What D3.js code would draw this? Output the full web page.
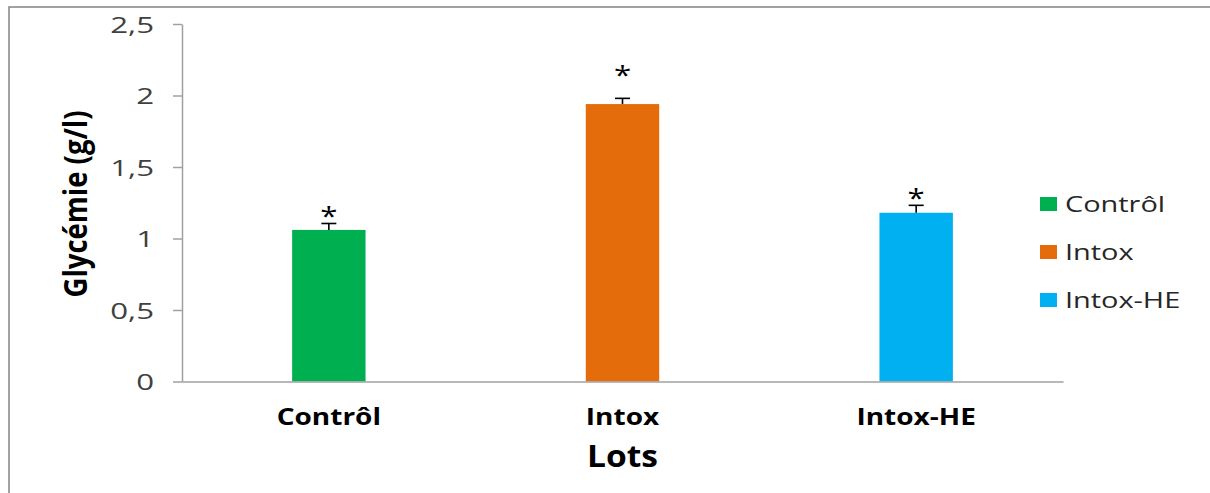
<!DOCTYPE html>
<html>
<head>
<meta charset="utf-8">
<script src="https://cdn.jsdelivr.net/npm/d3@7"></script>
<style>
  html, body { margin: 0; padding: 0; background: #fff; }
  svg { display: block; }
</style>
</head>
<body>
<script>
// ---- data ----
const categories = ["Contrôl", "Intox", "Intox-HE"];
const values = [1.06, 1.94, 1.18];
const errors = [0.045, 0.04, 0.052];
const significance = ["*", "*", "*"];
const colors = ["#00B050", "#E46C0A", "#00B0F0"];
const yTickValues = [0, 0.5, 1, 1.5, 2, 2.5];
const yTickLabels = ["0", "0,5", "1", "1,5", "2", "2,5"];
const yTitle = "Glycémie (g/l)";
const xTitle = "Lots";

// ---- layout ----
const W = 1210, H = 493;
const plot = { left: 182, right: 1063, top: 24, bottom: 381.5 };
const FONT = "'Open Sans', 'Noto Sans', sans-serif";

const svg = d3.select("body").append("svg")
  .attr("width", W).attr("height", H);

// outer frame (cropped: only top and left visible)
svg.append("rect")
  .attr("x", 9).attr("y", 7)
  .attr("width", W + 20).attr("height", H + 20)
  .attr("fill", "#fff")
  .attr("stroke", "#8a8a8a").attr("stroke-width", 1.6);

const x = d3.scaleBand()
  .domain(categories)
  .range([plot.left, plot.right])
  .paddingInner(0.75).paddingOuter(0.375);

const y = d3.scaleLinear()
  .domain([0, 2.5])
  .range([plot.bottom, plot.top]);

// bars
svg.append("g").selectAll("rect")
  .data(categories)
  .join("rect")
  .attr("x", d => x(d))
  .attr("y", (d, i) => y(values[i]))
  .attr("width", x.bandwidth())
  .attr("height", (d, i) => y(0) - y(values[i]))
  .attr("fill", (d, i) => colors[i]);

// error bars (upper only)
const eg = svg.append("g").attr("stroke", "#000").attr("stroke-width", 1.6);
categories.forEach((c, i) => {
  const cx = x(c) + x.bandwidth() / 2;
  eg.append("line")
    .attr("x1", cx).attr("x2", cx)
    .attr("y1", y(values[i])).attr("y2", y(values[i] + errors[i]));
  eg.append("line")
    .attr("x1", cx - 7.5).attr("x2", cx + 7.5)
    .attr("y1", y(values[i] + errors[i])).attr("y2", y(values[i] + errors[i]));
});

// significance stars
const starGap = [2, 18, 2];
svg.append("g").selectAll("text")
  .data(categories)
  .join("text")
  .attr("transform", (d, i) => {
    const cx = x(d) + x.bandwidth() / 2;
    const yy = y(values[i] + errors[i]) - starGap[i] + 4;
    return `translate(${cx},${yy}) scale(1.2,1)`;
  })
  .attr("text-anchor", "middle")
  .attr("font-family", FONT)
  .attr("font-size", 26)
  .attr("fill", "#000")
  .text((d, i) => significance[i]);

// y axis
const yAxis = svg.append("g")
  .attr("transform", `translate(${plot.left},0)`)
  .call(d3.axisLeft(y)
    .tickValues(yTickValues)
    .tickSize(9)
    .tickSizeOuter(0)
    .tickFormat((d, i) => yTickLabels[i]));
yAxis.select(".domain").attr("stroke", "#a0a0a0").attr("stroke-width", 1.5);
yAxis.selectAll(".tick line").attr("stroke", "#a0a0a0").attr("stroke-width", 1.5);
yAxis.selectAll(".tick text")
  .attr("x", null).attr("dy", null)
  .attr("transform", "translate(-28,8) scale(1.42,1)")
  .attr("text-anchor", "end")
  .attr("font-family", FONT)
  .attr("font-size", 22)
  .attr("fill", "#404040");

// x axis
const xAxis = svg.append("g")
  .attr("transform", `translate(0,${plot.bottom})`)
  .call(d3.axisBottom(x).tickSize(0).tickSizeOuter(0));
xAxis.select(".domain").attr("stroke", "#a0a0a0").attr("stroke-width", 1.5);
xAxis.selectAll(".tick text")
  .attr("y", null).attr("dy", null)
  .attr("transform", "translate(0,43.5) scale(1.25,1)")
  .attr("text-anchor", "middle")
  .attr("font-family", FONT)
  .attr("font-weight", "bold")
  .attr("font-size", 22.4)
  .attr("fill", "#000");

// axis titles
svg.append("text")
  .attr("transform", `translate(${(plot.left + plot.right) / 2},467) scale(1.1,1)`)
  .attr("text-anchor", "middle")
  .attr("font-family", FONT)
  .attr("font-weight", "bold")
  .attr("font-size", 30.5)
  .attr("fill", "#000")
  .text(xTitle);

svg.append("text")
  .attr("transform", "translate(87,204) scale(1.2,1) rotate(-90)")
  .attr("text-anchor", "middle")
  .attr("font-family", FONT)
  .attr("font-weight", "bold")
  .attr("font-size", 27.5)
  .attr("fill", "#000")
  .text(yTitle);

// legend
const lg = svg.append("g");
categories.forEach((c, i) => {
  const by = 212 + i * 48;
  lg.append("rect")
    .attr("x", 1040).attr("y", by - 15)
    .attr("width", 17).attr("height", 14)
    .attr("fill", colors[i]);
  lg.append("text")
    .attr("transform", `translate(1065,${by}) scale(1.29,1)`)
    .attr("font-family", FONT)
    .attr("font-size", 22.4)
    .attr("fill", "#262626")
    .text(c);
});
</script>
</body>
</html>
